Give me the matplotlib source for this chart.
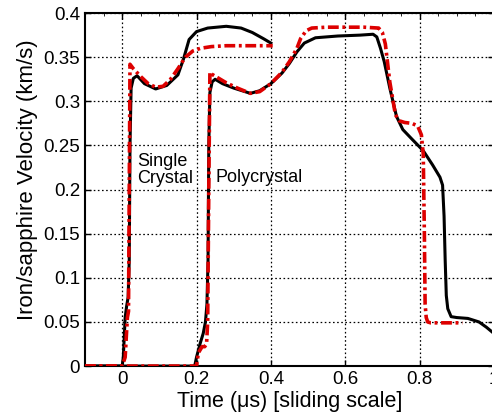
import matplotlib.pyplot as plt
from matplotlib.ticker import MultipleLocator

plt.rcParams["font.family"] = ["Liberation Sans", "DejaVu Sans"]

# Single crystal, measured (black) and simulated (red)
sc_t_meas = [-0.1, 0.0, 0.003, 0.008, 0.012, 0.016, 0.019, 0.021, 0.024, 0.03, 0.04, 0.06,
             0.09, 0.12, 0.15, 0.165, 0.18, 0.2, 0.23, 0.28, 0.32, 0.35, 0.38, 0.4]
sc_v_meas = [0, 0, 0.01, 0.055, 0.068, 0.078, 0.12, 0.25, 0.315, 0.326, 0.329, 0.32,
             0.314, 0.318, 0.33, 0.348, 0.37, 0.379, 0.383, 0.385, 0.383, 0.378, 0.371, 0.366]
sc_t_sim = [-0.1, 0.0, 0.008, 0.014, 0.017, 0.019, 0.021, 0.03, 0.05, 0.07, 0.09, 0.11,
            0.13, 0.15, 0.17, 0.19, 0.21, 0.24, 0.28, 0.35, 0.405]
sc_v_sim = [0, 0, 0.01, 0.055, 0.062, 0.2, 0.342, 0.337, 0.328, 0.32, 0.316, 0.317,
            0.325, 0.337, 0.35, 0.357, 0.36, 0.362, 0.363, 0.363, 0.363]

# Polycrystal, measured (black) and simulated (red)
pc_t_meas = [-0.1, 0.195, 0.2, 0.21, 0.218, 0.224, 0.228, 0.231, 0.233, 0.236, 0.242, 0.25,
             0.27, 0.3, 0.33, 0.345, 0.37, 0.4, 0.43, 0.45, 0.47, 0.49, 0.52, 0.58, 0.64,
             0.675, 0.685, 0.695, 0.705, 0.72, 0.738, 0.755, 0.78, 0.81, 0.835, 0.855,
             0.862, 0.866, 0.869, 0.872, 0.876, 0.885, 0.9, 0.93, 0.96, 0.98, 1.0]
pc_v_meas = [0, 0, 0.01, 0.026, 0.037, 0.05, 0.07, 0.12, 0.25, 0.31, 0.322, 0.325,
             0.32, 0.315, 0.311, 0.309, 0.312, 0.32, 0.332, 0.343, 0.356, 0.366, 0.372, 0.374, 0.375,
             0.376, 0.373, 0.36, 0.345, 0.315, 0.283, 0.268, 0.257, 0.244, 0.228, 0.214,
             0.205, 0.17, 0.12, 0.08, 0.065, 0.056, 0.055, 0.054, 0.05, 0.044, 0.037]
pc_t_sim = [-0.1, 0.2, 0.205, 0.215, 0.222, 0.227, 0.23, 0.233, 0.236, 0.24, 0.26, 0.28,
            0.31, 0.345, 0.37, 0.4, 0.43, 0.45, 0.47, 0.48, 0.495, 0.51, 0.55, 0.65, 0.69,
            0.7, 0.708, 0.72, 0.735, 0.745, 0.76, 0.78, 0.795, 0.805, 0.81, 0.813, 0.815,
            0.818, 0.822, 0.83, 0.86, 0.915]
pc_v_sim = [0, 0, 0.015, 0.022, 0.022, 0.025, 0.05, 0.2, 0.333, 0.331, 0.326, 0.321,
            0.315, 0.309, 0.311, 0.32, 0.333, 0.345, 0.36, 0.371, 0.38, 0.383, 0.384, 0.384, 0.383,
            0.378, 0.365, 0.322, 0.285, 0.278, 0.276, 0.275, 0.272, 0.262, 0.24, 0.15, 0.07,
            0.055, 0.05, 0.049, 0.049, 0.049]

x_ticks = [0, 0.2, 0.4, 0.6, 0.8, 1.0]
x_labels = ["0", "0.2", "0.4", "0.6", "0.8", "1"]
y_ticks = [0, 0.05, 0.1, 0.15, 0.2, 0.25, 0.3, 0.35, 0.4]
y_labels = ["0", "0.05", "0.1", "0.15", "0.2", "0.25", "0.3", "0.35", "0.4"]

#%%
fig = plt.figure(figsize=(4.92, 4.16), dpi=100)
ax = fig.add_axes([0.1728, 0.120, 0.831, 0.8486])

ax.set_xlim(-0.1, 1.0)
ax.set_ylim(0, 0.4)
ax.set_xticks(x_ticks)
ax.set_xticklabels(x_labels)
ax.set_yticks(y_ticks)
ax.set_yticklabels(y_labels)
ax.xaxis.set_minor_locator(MultipleLocator(0.05))
ax.tick_params(which="major", direction="in", top=True, right=True, length=4,
               labelsize=13.5, width=1)
ax.tick_params(which="minor", direction="in", top=True, bottom=False, length=2)
for s in ax.spines.values():
    s.set_linewidth(1.5)

# dotted grid
ax.grid(True, which="major", color="black", linewidth=0.9, linestyle=(0, (1.3, 2)))

red = "#dd0000"
dash = (0, (3, 1, 0.8, 1))
ax.plot(sc_t_meas, sc_v_meas, color="black", lw=2.2, zorder=3)
ax.plot(pc_t_meas, pc_v_meas, color="black", lw=2.2, zorder=3)
ax.plot(sc_t_sim, sc_v_sim, color=red, lw=2.6, linestyle=dash, zorder=4)
ax.plot(pc_t_sim, pc_v_sim, color=red, lw=2.6, linestyle=dash, zorder=4)

ax.text(0.04, 0.222, "Single\nCrystal", fontsize=13, ha="left", va="center", linespacing=1.0)
ax.text(0.25, 0.214, "Polycrystal", fontsize=13, ha="left", va="center")

ax.set_xlabel("Time (\u03bcs) [sliding scale]", fontsize=15.5, labelpad=2)
ax.set_ylabel("Iron/sapphire Velocity (km/s)", fontsize=16)
ax.yaxis.set_label_coords(-0.115, 0.527)

fig.savefig("out.png", dpi=100)
